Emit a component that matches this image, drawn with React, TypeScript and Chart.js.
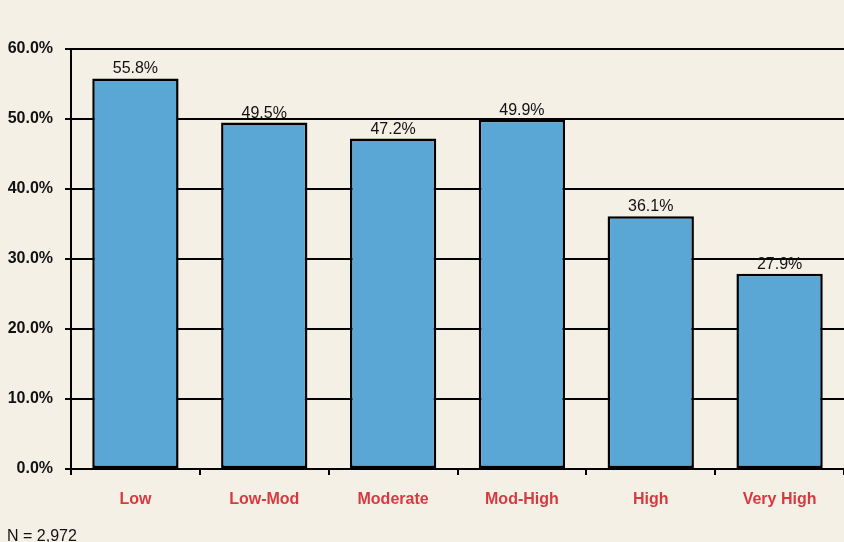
import React, { useEffect, useRef } from "react";
import { Chart, registerables } from "chart.js";

Chart.register(...registerables);

const categories = ["Low", "Low-Mod", "Moderate", "Mod-High", "High", "Very High"];
const values = [55.8, 49.5, 47.2, 49.9, 36.1, 27.9];
const yMin = 0;
const yMax = 60;
const yStep = 10;
const note = "N = 2,972";

const BG = "#F5F0E6";
const BAR = "#5AA7D6";
const LABEL_RED = "#D9383F";
const FONT = "'Liberation Sans', Arial, sans-serif";

export default function App() {
  const ref = useRef<HTMLCanvasElement | null>(null);

  useEffect(() => {
    document.body.style.margin = "0";
    document.body.style.background = BG;
    const canvas = ref.current;
    if (!canvas) return;

    const bgPlugin = {
      id: "bg",
      beforeDraw(chart: any) {
        const { ctx, width, height } = chart;
        ctx.save();
        ctx.fillStyle = BG;
        ctx.fillRect(0, 0, width, height);
        ctx.restore();
      },
    };

    const labelPlugin = {
      id: "valueLabels",
      afterDatasetsDraw(chart: any) {
        const { ctx } = chart;
        const meta = chart.getDatasetMeta(0);
        ctx.save();
        ctx.font = `16px ${FONT}`;
        ctx.fillStyle = "#111";
        ctx.textAlign = "center";
        ctx.textBaseline = "alphabetic";
        meta.data.forEach((bar: any, i: number) => {
          ctx.fillText(values[i].toFixed(1) + "%", bar.x, bar.y - 5);
        });
        ctx.restore();
      },
      afterDraw(chart: any) {
        const { ctx } = chart;
        ctx.save();
        ctx.font = `16px ${FONT}`;
        ctx.fillStyle = "#111";
        ctx.textAlign = "left";
        ctx.textBaseline = "alphabetic";
        ctx.fillText(note, 7, 541);
        ctx.restore();
      },
    };

    const chart = new Chart(canvas, {
      type: "bar",
      data: {
        labels: categories,
        datasets: [
          {
            data: values,
            backgroundColor: BAR,
            borderColor: "#000",
            borderWidth: 2.5,
            borderSkipped: false,
            categoryPercentage: 1,
            barPercentage: 0.67,
          },
        ],
      },
      options: {
        animation: false,
        responsive: true,
        maintainAspectRatio: false,
        layout: { padding: { top: 49, right: 0, bottom: 30, left: 0 } },
        plugins: {
          legend: { display: false },
          tooltip: { enabled: false },
        },
        scales: {
          x: {
            grid: {
              drawOnChartArea: false,
              drawTicks: true,
              tickLength: 6,
              color: "#000",
              lineWidth: 2,
            },
            border: { display: true, color: "#000", width: 2 },
            ticks: {
              color: LABEL_RED,
              font: { family: FONT, size: 16, weight: "bold" },
              padding: 15,
            },
            afterFit(scale: any) {
              scale.height = 43;
            },
          },
          y: {
            min: yMin,
            max: yMax,
            grid: {
              color: "#000",
              lineWidth: 2,
              drawTicks: true,
              tickLength: 6,
            },
            border: { display: true, color: "#000", width: 2 },
            ticks: {
              stepSize: yStep,
              color: "#111",
              font: { family: FONT, size: 16, weight: "bold" },
              padding: 12,
              callback: (v: any) => Number(v).toFixed(1) + "%",
            },
            afterFit(scale: any) {
              scale.width = 71;
            },
          },
        },
      },
      plugins: [bgPlugin, labelPlugin],
    });

    return () => chart.destroy();
  }, []);

  return (
    <div style={{ width: 844, height: 542, position: "relative", background: BG }}>
      <canvas ref={ref} />
    </div>
  );
}
